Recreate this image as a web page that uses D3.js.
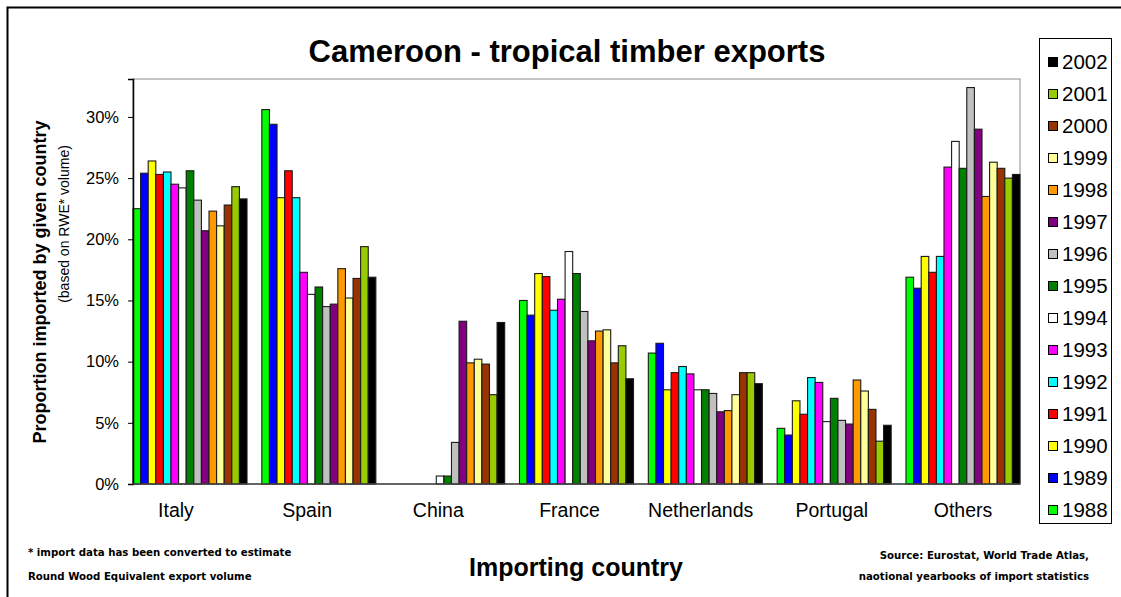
<!DOCTYPE html>
<html>
<head>
<meta charset="utf-8">
<script src="https://cdn.jsdelivr.net/npm/d3@7"></script>
<style>
  body { margin: 0; background: #fff; }
  svg { display: block; font-family: "Liberation Sans", Arial, sans-serif; }
</style>
</head>
<body>
<svg id="chart" width="1121" height="597"></svg>
<script>
const countries = ['Italy', 'Spain', 'China', 'France', 'Netherlands', 'Portugal', 'Others'];
const years = ['1988', '1989', '1990', '1991', '1992', '1993', '1994', '1995',
  '1996', '1997', '1998', '1999', '2000', '2001', '2002'];
const colors = ['#00ff00', '#0000ff', '#ffff00', '#ff0000', '#00ffff', '#ff00ff', '#ffffff',
  '#008000', '#c0c0c0', '#800080', '#ff9900', '#ffff99', '#993300', '#99cc00', '#000000'];

// share (%) per country, one value per year 1988..2002
const italy = [22.5, 25.4, 26.4, 25.3, 25.5, 24.5, 24.2, 25.6, 23.2, 20.7, 22.3, 21.1, 22.8, 24.3, 23.3];
const spain = [30.6, 29.4, 23.4, 25.6, 23.4, 17.3, 15.5, 16.1, 14.5, 14.7, 17.6, 15.2, 16.8, 19.4, 16.9];
const china = [0, 0, 0, 0, 0, 0, 0.65, 0.65, 3.4, 13.3, 9.9, 10.2, 9.8, 7.3, 13.2];
const france = [15.0, 13.8, 17.2, 16.95, 14.2, 15.1, 19.0, 17.2, 14.1, 11.7, 12.5, 12.6, 9.9, 11.3, 8.6];
const netherlands = [10.7, 11.5, 7.7, 9.1, 9.6, 9.0, 7.7, 7.7, 7.4, 5.9, 6.0, 7.3, 9.1, 9.1, 8.2];
const portugal = [4.55, 4.0, 6.8, 5.7, 8.7, 8.3, 5.1, 7.0, 5.2, 4.9, 8.5, 7.6, 6.1, 3.5, 4.8];
const others = [16.9, 16.0, 18.6, 17.3, 18.6, 25.9, 28.0, 25.8, 32.4, 29.0, 23.5, 26.3, 25.8, 25.0, 25.3];
const series = [italy, spain, china, france, netherlands, portugal, others];

const yTicks = [0, 5, 10, 15, 20, 25, 30];

const svg = d3.select('#chart');

// outer frame (only left and top edges fall inside the picture)
svg.append('rect')
  .attr('x', 7.5).attr('y', 7.5)
  .attr('width', 1300).attr('height', 800)
  .attr('fill', 'none')
  .attr('stroke', '#000')
  .attr('stroke-width', 2);

const plot = {left: 133, right: 1020, top: 79, bottom: 484};

const x0 = d3.scaleBand()
  .domain(countries)
  .range([plot.left, plot.right])
  .paddingInner(0.115)
  .paddingOuter(0);

const x1 = d3.scaleBand()
  .domain(years)
  .range([0, x0.bandwidth()]);

const xLabel = d3.scalePoint()
  .domain(countries)
  .range([176, 963]);

const y = d3.scaleLinear()
  .domain([0, 33.1])
  .range([plot.bottom, plot.top]);

// plot area border
svg.append('rect')
  .attr('x', plot.left).attr('y', plot.top)
  .attr('width', plot.right - plot.left)
  .attr('height', plot.bottom - plot.top)
  .attr('fill', '#fff')
  .attr('stroke', '#8c8c8c')
  .attr('stroke-width', 1);

// bars
const groups = svg.append('g')
  .selectAll('g')
  .data(countries)
  .join('g')
  .attr('transform', c => 'translate(' + x0(c) + ',0)');

groups.selectAll('rect')
  .data((c, i) => years.map((yr, j) => ({year: yr, value: series[i][j], color: colors[j]})))
  .join('rect')
  .filter(d => d.value > 0)
  .attr('x', d => x1(d.year))
  .attr('y', d => y(d.value))
  .attr('width', x1.bandwidth())
  .attr('height', d => y(0) - y(d.value))
  .attr('fill', d => d.color)
  .attr('stroke', '#1a1a1a')
  .attr('stroke-width', 1.1);

// y axis
const yAxis = svg.append('g')
  .attr('transform', 'translate(' + plot.left + ',0)')
  .call(d3.axisLeft(y).tickValues(yTicks).tickFormat(d => d + '%').tickSize(5).tickPadding(9));
yAxis.select('.domain').attr('stroke', '#000').attr('stroke-width', 1.5);
yAxis.selectAll('.tick line').attr('stroke', '#000');
yAxis.selectAll('text')
  .attr('font-family', '"Liberation Sans", Arial, sans-serif')
  .attr('font-size', 16.5)
  .attr('fill', '#000');

// x baseline
svg.append('line')
  .attr('x1', plot.left).attr('x2', plot.right)
  .attr('y1', y(0)).attr('y2', y(0))
  .attr('stroke', '#444')
  .attr('stroke-width', 1.5);

// category labels
svg.append('g')
  .selectAll('text')
  .data(countries)
  .join('text')
  .attr('x', c => xLabel(c))
  .attr('y', 517)
  .attr('text-anchor', 'middle')
  .attr('font-size', 19.5)
  .text(c => c);

// title
svg.append('text')
  .attr('x', 567).attr('y', 62)
  .attr('text-anchor', 'middle')
  .attr('font-size', 31)
  .attr('font-weight', 'bold')
  .text('Cameroon - tropical timber exports');

// axis titles
svg.append('text')
  .attr('transform', 'translate(46,282) rotate(-90)')
  .attr('text-anchor', 'middle')
  .attr('font-size', 18)
  .attr('font-weight', 'bold')
  .text('Proportion imported by given country');

svg.append('text')
  .attr('transform', 'translate(69,224) rotate(-90)')
  .attr('text-anchor', 'middle')
  .attr('font-size', 14)
  .text('(based on RWE* volume)');

svg.append('text')
  .attr('x', 576).attr('y', 576)
  .attr('text-anchor', 'middle')
  .attr('font-size', 25)
  .attr('font-weight', 'bold')
  .text('Importing country');

// notes
const noteFont = '"DejaVu Sans", Verdana, sans-serif';
const noteSize = 10.2;
svg.append('text')
  .attr('x', 28).attr('y', 556)
  .attr('font-family', noteFont)
  .attr('font-size', noteSize)
  .attr('font-weight', 'bold')
  .text('*  import data has been converted to estimate');
svg.append('text')
  .attr('x', 28).attr('y', 580)
  .attr('font-family', noteFont)
  .attr('font-size', noteSize)
  .attr('font-weight', 'bold')
  .text('Round Wood Equivalent export volume');

svg.append('text')
  .attr('x', 1089).attr('y', 559)
  .attr('text-anchor', 'end')
  .attr('font-family', noteFont)
  .attr('font-size', noteSize)
  .attr('font-weight', 'bold')
  .text('Source:  Eurostat, World Trade Atlas,');
svg.append('text')
  .attr('x', 1089).attr('y', 580)
  .attr('text-anchor', 'end')
  .attr('font-family', noteFont)
  .attr('font-size', noteSize)
  .attr('font-weight', 'bold')
  .text('naotional yearbooks of import statistics');

// legend
const legendYears = years.slice().reverse();
const legendY = d3.scalePoint()
  .domain(legendYears)
  .range([62, 510]);

svg.append('rect')
  .attr('x', 1039.5).attr('y', 38.5)
  .attr('width', 72).attr('height', 485)
  .attr('fill', '#fff')
  .attr('stroke', '#000')
  .attr('stroke-width', 1);

const legend = svg.append('g')
  .selectAll('g')
  .data(legendYears)
  .join('g')
  .attr('transform', d => 'translate(1048,' + legendY(d) + ')');

legend.append('rect')
  .attr('x', 0.5).attr('y', -4.5)
  .attr('width', 9).attr('height', 9)
  .attr('fill', d => colors[years.indexOf(d)])
  .attr('stroke', '#000');

legend.append('text')
  .attr('x', 14)
  .attr('y', 0)
  .attr('dy', '0.36em')
  .attr('font-size', 20.5)
  .text(d => d);
</script>
</body>
</html>
